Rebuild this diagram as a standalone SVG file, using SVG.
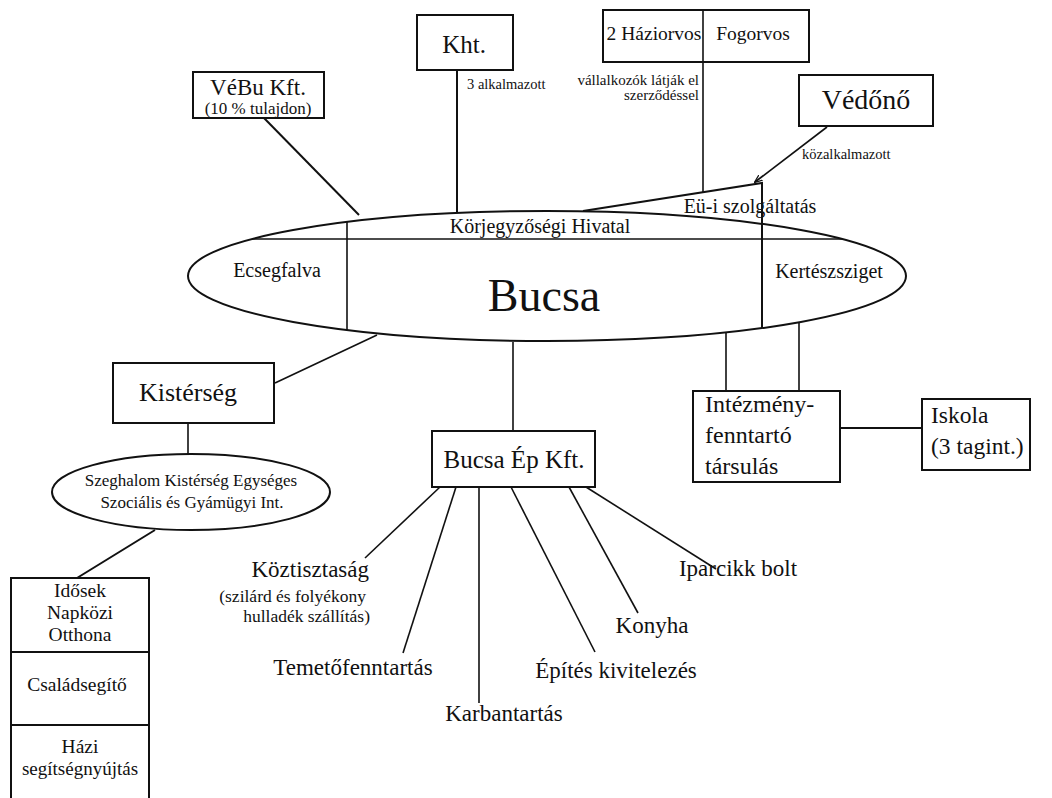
<svg xmlns="http://www.w3.org/2000/svg" width="1052" height="798" viewBox="0 0 1052 798" font-family="'Liberation Serif', 'DejaVu Serif', serif">
<style>
text{font-family:'Liberation Serif','DejaVu Serif',serif;fill:#111}
.box{fill:#fff;stroke:#111;stroke-width:2}
.ln{stroke:#111;stroke-width:2;fill:none}
.th{stroke:#111;stroke-width:1.6;fill:none}
.m{text-anchor:middle}
.e{text-anchor:end}
</style>
<defs>
<marker id="arr" viewBox="0 0 10 10" refX="9" refY="5" markerWidth="8" markerHeight="8" orient="auto" markerUnits="userSpaceOnUse">
<path d="M0,1 L10,5 L0,9" fill="none" stroke="#111" stroke-width="1.5"/>
</marker>
</defs>
<rect width="1052" height="798" fill="#fff"/>
<g id="connectors">
<line class="ln" x1="264" y1="118" x2="359" y2="215"/>
<line class="ln" x1="457" y1="70" x2="457" y2="212"/>
<line class="th" x1="703" y1="62" x2="703" y2="192"/>
<line class="th" x1="827" y1="127" x2="755" y2="182" marker-end="url(#arr)"/>
<line class="th" x1="377" y1="335" x2="275" y2="383"/>
<line class="th" x1="188" y1="423" x2="188" y2="454"/>
<line class="ln" x1="155" y1="530" x2="77" y2="578"/>
<line class="th" x1="513" y1="342" x2="513" y2="431"/>
<line class="th" x1="726" y1="332" x2="726" y2="391"/>
<line class="th" x1="799" y1="322" x2="799" y2="391"/>
<line class="ln" x1="840" y1="428" x2="922" y2="428"/>
<line class="th" x1="440" y1="487" x2="365" y2="558"/>
<line class="th" x1="456" y1="487" x2="403" y2="653"/>
<line class="th" x1="479" y1="487" x2="479" y2="703"/>
<line class="th" x1="511" y1="487" x2="595" y2="652"/>
<line class="th" x1="569" y1="487" x2="638" y2="613"/>
<line class="th" x1="586" y1="487" x2="716" y2="569"/>
</g>
<g id="bucsa">
<ellipse cx="547" cy="276" rx="359" ry="65" fill="#fff" stroke="#111" stroke-width="2"/>
<line class="th" x1="252" y1="239" x2="842" y2="239"/>
<line class="th" x1="347" y1="222" x2="347" y2="330"/>
<polyline class="ln" points="583,211 762,183 762,328"/>
<text x="540" y="233" class="m" font-size="20">Körjegyzőségi Hivatal</text>
<text x="750" y="213" class="m" font-size="20">Eü-i szolgáltatás</text>
<text x="277" y="277" class="m" font-size="20">Ecsegfalva</text>
<text x="829" y="278" class="m" font-size="20">Kertészsziget</text>
<text x="544" y="311" class="m" font-size="46">Bucsa</text>
</g>
<g id="vebu">
<rect class="box" x="193" y="72" width="131" height="46"/>
<text x="258" y="95" class="m" font-size="23">VéBu Kft.</text>
<text x="258" y="114" class="m" font-size="17">(10 % tulajdon)</text>
</g>
<g id="kht">
<rect class="box" x="417" y="15" width="96" height="55"/>
<text x="464" y="53" class="m" font-size="25">Kht.</text>
<text x="467" y="89" font-size="14.5">3 alkalmazott</text>
</g>
<g id="orvos">
<rect class="box" x="603" y="10" width="206" height="52"/>
<line class="th" x1="703" y1="10" x2="703" y2="62"/>
<text x="654" y="40" class="m" font-size="19.5">2 Háziorvos</text>
<text x="753" y="40" class="m" font-size="19.5">Fogorvos</text>
<text x="699" y="85" class="e" font-size="15">vállalkozók látják el</text>
<text x="699" y="100" class="e" font-size="15">szerződéssel</text>
</g>
<g id="vedono">
<rect class="box" x="799" y="75" width="134" height="51"/>
<text x="866" y="109" class="m" font-size="28">Védőnő</text>
<text x="802" y="159" font-size="14.5">közalkalmazott</text>
</g>
<g id="kisterseg">
<rect class="box" x="113" y="363" width="161" height="60"/>
<text x="188" y="401" class="m" font-size="26">Kistérség</text>
</g>
<g id="szeghalom">
<ellipse cx="191" cy="492" rx="139" ry="38" fill="#fff" stroke="#111" stroke-width="2"/>
<text x="191" y="486" class="m" font-size="17">Szeghalom Kistérség Egységes</text>
<text x="192" y="508" class="m" font-size="17">Szociális és Gyámügyi Int.</text>
</g>
<g id="szocialis">
<rect class="box" x="11" y="578" width="138" height="230"/>
<line class="ln" x1="11" y1="652" x2="149" y2="652"/>
<line class="ln" x1="11" y1="725" x2="149" y2="725"/>
<text x="80" y="597" class="m" font-size="19.5">Idősek</text>
<text x="80" y="619" class="m" font-size="19.5">Napközi</text>
<text x="80" y="641" class="m" font-size="19.5">Otthona</text>
<text x="77" y="691" class="m" font-size="19.5">Családsegítő</text>
<text x="80" y="753" class="m" font-size="19.5">Házi</text>
<text x="80" y="775" class="m" font-size="19">segítségnyújtás</text>
</g>
<g id="bucsaep">
<rect class="box" x="432" y="431" width="163" height="56"/>
<text x="514" y="468" class="m" font-size="25">Bucsa Ép Kft.</text>
</g>
<g id="intezmeny">
<rect class="box" x="693" y="391" width="147" height="91"/>
<text x="705" y="412" font-size="24">Intézmény-</text>
<text x="705" y="443" font-size="24">fenntartó</text>
<text x="705" y="474" font-size="24">társulás</text>
</g>
<g id="iskola">
<rect class="box" x="922" y="399" width="108" height="71"/>
<text x="931" y="423" font-size="23.5">Iskola</text>
<text x="931" y="454" font-size="23.5">(3 tagint.)</text>
</g>
<g id="labels">
<text x="369" y="577" class="e" font-size="23">Köztisztaság</text>
<text x="366" y="602" class="e" font-size="17.5">(szilárd és folyékony</text>
<text x="370" y="622" class="e" font-size="17.5">hulladék szállítás)</text>
<text x="353" y="675" class="m" font-size="23">Temetőfenntartás</text>
<text x="504" y="721" class="m" font-size="23">Karbantartás</text>
<text x="616" y="678" class="m" font-size="23">Építés kivitelezés</text>
<text x="652" y="633" class="m" font-size="23">Konyha</text>
<text x="738" y="576" class="m" font-size="23">Iparcikk bolt</text>
</g>
</svg>
